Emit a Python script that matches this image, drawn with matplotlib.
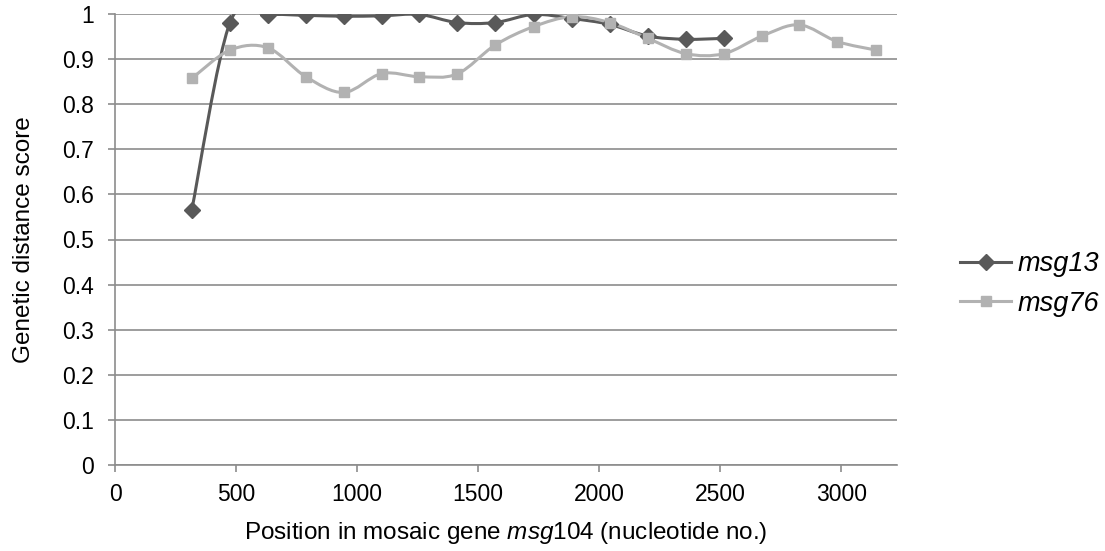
#!/usr/bin/env python3
"""Genetic distance score along mosaic gene msg104"""

import numpy as np
import matplotlib
matplotlib.use("Agg")
import matplotlib.pyplot as plt
from matplotlib.path import Path
from matplotlib.patches import PathPatch
from matplotlib.lines import Line2D

plt.rcParams["font.family"] = ["Liberation Sans", "DejaVu Sans"]
plt.rcParams["mathtext.fontset"] = "custom"
plt.rcParams["mathtext.rm"] = "Liberation Sans"
plt.rcParams["mathtext.it"] = "Liberation Sans:italic"

# positions (nucleotide no.)
pos = [317, 475, 632, 788, 945, 1102, 1257, 1413, 1570, 1729, 1887, 2043,
       2201, 2358, 2515, 2672, 2826, 2983, 3143]
msg13 = [0.565, 0.981, 0.998, 0.997, 0.995, 0.996, 0.999, 0.981, 0.981,
         0.999, 0.990, 0.977, 0.951, 0.944, 0.946]
msg76 = [0.857, 0.920, 0.925, 0.861, 0.826, 0.868, 0.861, 0.867, 0.931,
         0.972, 0.994, 0.981, 0.946, 0.912, 0.912, 0.951, 0.976, 0.939, 0.920]

DARK = "#595959"
LIGHT = "#b2b2b2"
GRID = "#8c8c8c"


def smooth_path(x, y):
    """Excel-like smoothed line as cubic bezier path"""
    p = np.column_stack([x, y]).astype(float)
    n = len(p)
    verts = [p[0]]
    codes = [Path.MOVETO]
    for i in range(n - 1):
        p0 = p[max(i - 1, 0)]
        p3 = p[min(i + 2, n - 1)]
        c1 = p[i] + (p[i + 1] - p0) / 6
        c2 = p[i + 1] - (p3 - p[i]) / 6
        verts += [c1, c2, p[i + 1]]
        codes += [Path.CURVE4] * 3
    return Path(verts, codes)


fig = plt.figure(figsize=(11.05, 5.51), dpi=100)
ax = fig.add_axes([115 / 1105, 86 / 551, 782 / 1105, 451 / 551])

series = [("msg13", msg13, DARK, "D", 8.2), ("msg76", msg76, LIGHT, "s", 7.5)]
handles = []
for name, vals, col, mk, ms in series:
    xs = pos[:len(vals)]
    ax.add_patch(PathPatch(smooth_path(xs, vals), facecolor="none",
                           edgecolor=col, lw=2.2, zorder=3))
    ax.plot(xs, vals, ls="none", marker=mk, ms=ms, color=col, zorder=4)
    handles.append(Line2D([], [], color=col, lw=2.2, marker=mk, ms=ms))

ax.set_xlim(0, 3230)
ax.set_ylim(0, 1)
ax.set_xticks(np.arange(0, 3001, 500))
ax.set_yticks(np.arange(0, 1.01, 0.1))
ax.set_yticklabels(["0"] + ["%.1f" % v for v in np.arange(0.1, 0.95, 0.1)] + ["1"])
ax.grid(axis="y", color=GRID, lw=1.2)
ax.set_axisbelow(True)
for s in ["top", "right"]:
    ax.spines[s].set_visible(False)
for s in ["left", "bottom"]:
    ax.spines[s].set_color(GRID)
    ax.spines[s].set_linewidth(1.2)
ax.tick_params(axis="both", colors=GRID, labelcolor="black", labelsize=16.5,
               length=5, width=1.2)
ax.tick_params(axis="y", pad=10)
ax.tick_params(axis="x", pad=8)

ax.set_ylabel("Genetic distance score", fontsize=17.5, labelpad=20)
ax.set_xlabel(r"Position in mosaic gene $\mathit{msg}$104 (nucleotide no.)",
              fontsize=17.5, labelpad=10)

fig.legend(handles, ["msg13", "msg76"], loc="center left",
           bbox_to_anchor=(960 / 1105, 1 - 284 / 551), frameon=False,
           prop={"size": 19.5, "style": "italic"}, handlelength=1.9,
           handletextpad=0.22, labelspacing=0.5, borderpad=0,
           borderaxespad=0)

fig.savefig("out.png", dpi=100)
